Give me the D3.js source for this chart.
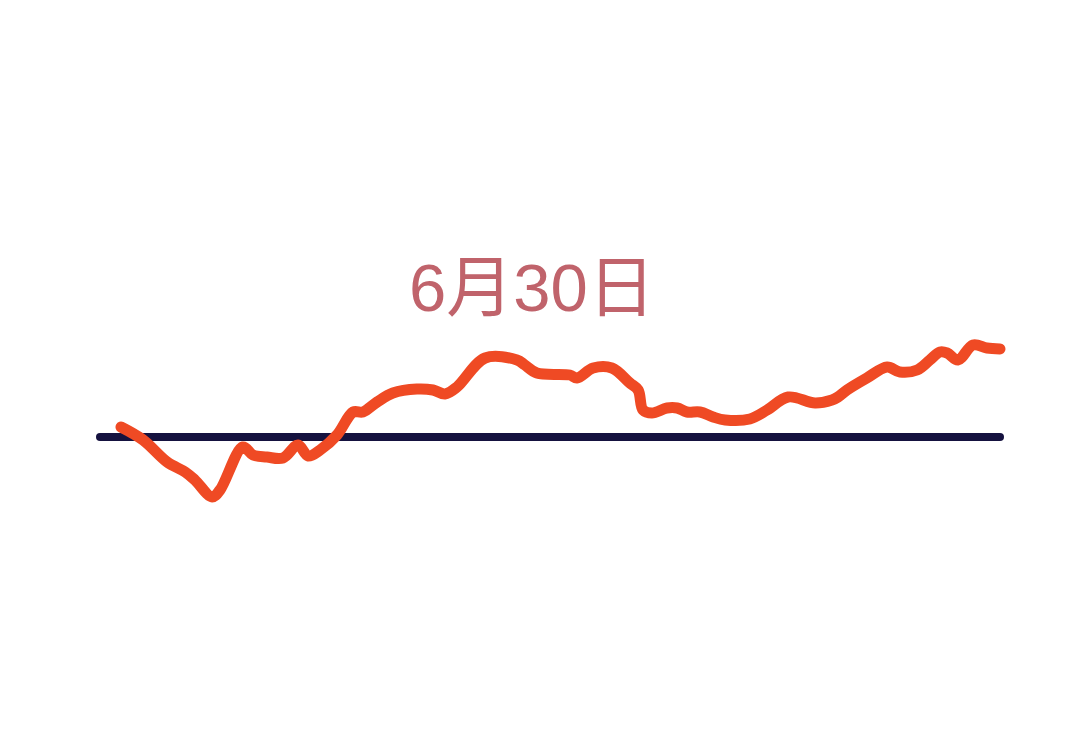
<!DOCTYPE html>
<html>
<head>
<meta charset="utf-8">
<script src="https://cdn.jsdelivr.net/npm/d3@7"></script>
<style>
html,body{margin:0;padding:0;background:#fff;}
svg{display:block;}
</style>
</head>
<body>
<svg id="chart" width="1080" height="750"></svg>
<script>
const title = "6月30日";
// minutes since open (0..240)
const minutes = [5.6,11.5,17.9,22.7,25.3,29.9,32.0,38.1,40.8,44.5,48.8,52.8,55.5,58.7,63.2,67.5,70.1,73.9,78.1,84.5,88.8,92.0,95.2,102.7,111.2,113.3,116.5,125.3,127.2,131.5,136.5,141.3,143.5,144.8,147.2,151.2,153.9,156.5,160.0,163.5,166.7,173.3,177.9,183.5,190.7,195.2,196.8,199.2,204.5,209.9,213.3,217.9,221.3,224.0,225.9,228.8,232.8,236.5,240];
// change vs. previous close (%)
const changes = [0.10,-0.03,-0.25,-0.35,-0.43,-0.60,-0.53,-0.10,-0.18,-0.20,-0.21,-0.08,-0.19,-0.13,0.02,0.25,0.25,0.35,0.44,0.48,0.47,0.43,0.50,0.79,0.77,0.72,0.64,0.62,0.59,0.69,0.69,0.54,0.47,0.27,0.24,0.29,0.29,0.25,0.25,0.20,0.17,0.18,0.27,0.40,0.34,0.37,0.40,0.47,0.59,0.70,0.65,0.67,0.77,0.85,0.84,0.77,0.92,0.89,0.88];

const data = minutes.map((t,i)=>({t, v: changes[i]}));
const svg = d3.select("#chart");
const x = d3.scaleLinear().domain([0,240]).range([100,1000]);
const y = d3.scaleLinear().domain([-1,1]).range([537,337]);

svg.append("text")
  .attr("x", 532).attr("y", 311)
  .attr("text-anchor","middle")
  .attr("font-family","'Liberation Sans','Noto Sans CJK SC',sans-serif")
  .attr("font-size", 67)
  .attr("fill","#c0636b")
  .text(title);

svg.append("line")
  .attr("x1", x(0)).attr("x2", x(240))
  .attr("y1", y(0)).attr("y2", y(0))
  .attr("stroke","#15123f")
  .attr("stroke-width",8)
  .attr("stroke-linecap","round");

const line = d3.line().x(d=>x(d.t)).y(d=>y(d.v)).curve(d3.curveCatmullRom.alpha(0.5));
svg.append("path")
  .datum(data)
  .attr("d", line)
  .attr("fill","none")
  .attr("stroke","#ef4a24")
  .attr("stroke-width",11)
  .attr("stroke-linecap","round")
  .attr("stroke-linejoin","round");
</script>
</body>
</html>
